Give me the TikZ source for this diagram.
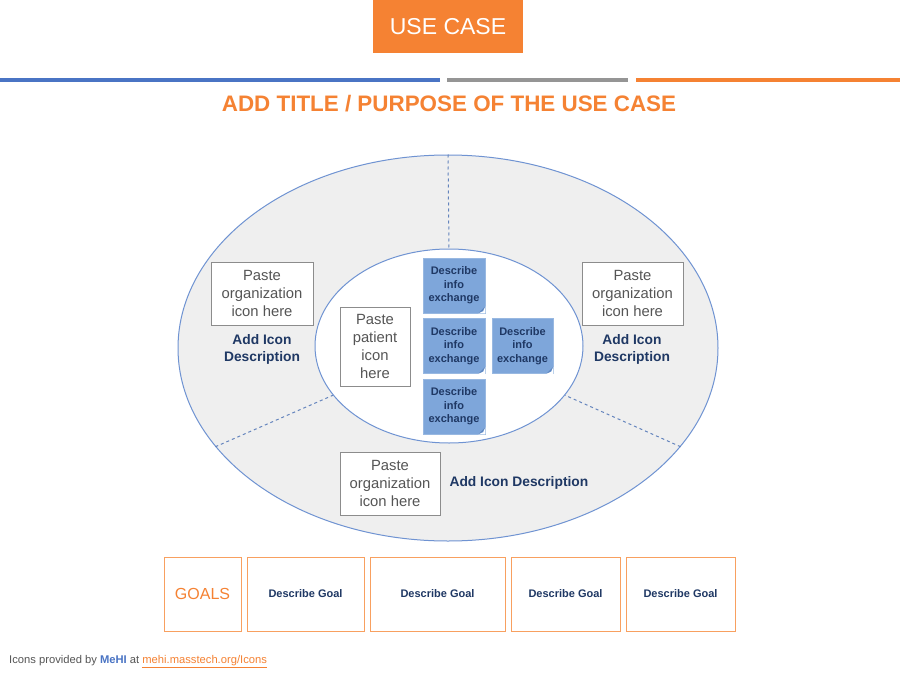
\documentclass[tikz,border=0pt]{standalone}
\usepackage{fontspec}
\setmainfont{Liberation Sans}
\usetikzlibrary{shapes.geometric}
\definecolor{ucorange}{HTML}{F58233}
\definecolor{gorange}{HTML}{F8A060}
\definecolor{ucblue}{HTML}{4A74C4}
\definecolor{ucgray}{HTML}{959595}
\definecolor{ellline}{HTML}{6F93D2}
\definecolor{ellfill}{HTML}{EFEFEF}
\definecolor{navy}{HTML}{1F3864}
\definecolor{infobox}{HTML}{7EA6DA}
\definecolor{infofold}{HTML}{5E86C0}
\definecolor{txtgray}{HTML}{555555}
\definecolor{boxline}{HTML}{8C8C8C}
\tikzset{
  iconbox/.style={draw=boxline, line width=0.9pt, fill=white, align=center, text=txtgray,
    font=\fontsize{14.8}{18}\selectfont, inner sep=0pt},
  descr/.style={align=center, text=navy, font=\bfseries\fontsize{13.8}{17}\selectfont},
  infobox/.style={fill=infobox, draw=infobox!80!white, line width=0.5pt, minimum width=62pt, minimum height=55pt,
    align=center, text=navy, font=\bfseries\fontsize{11}{13.5}\selectfont, inner sep=0pt},
  goalbox/.style={draw=gorange, line width=1pt, fill=white, minimum height=74pt, inner sep=0pt,
    text=navy, font=\bfseries\fontsize{11}{13}\selectfont},
  sepline/.style={draw=ellline!90!black, dashed, line width=1pt},
  barline/.style={line width=4pt}
}
\newcommand{\foldcorner}[1]{%
  \fill[white] ([xshift=-2pt,yshift=2pt]#1.south east) -- ([yshift=7pt]#1.south east) -- (#1.south east) -- ([xshift=-7pt]#1.south east) -- cycle;
  \fill[infofold] ([xshift=-7pt]#1.south east) -- ([yshift=7pt]#1.south east) -- ([xshift=-2.5pt,yshift=2.5pt]#1.south east) -- cycle;}
\begin{document}
\begin{tikzpicture}[x=1pt,y=-1pt]
\useasboundingbox[fill=white] (0,0) rectangle (900,680);
% header
\node[fill=ucorange, minimum width=150pt, minimum height=53pt, inner sep=0pt, text=white,
  font=\fontsize{23}{28}\selectfont] (hdr) at (448,26.5) {USE CASE};
\coordinate (b1a) at (0,80); \coordinate (b1b) at (440,80);
\coordinate (b2a) at (447,80); \coordinate (b2b) at (628,80);
\coordinate (b3a) at (636,80); \coordinate (b3b) at (900,80);
\draw[barline, ucblue] (b1a) -- (b1b);
\draw[barline, ucgray] (b2a) -- (b2b);
\draw[barline, ucorange] (b3a) -- (b3b);
\node[text=ucorange, font=\bfseries\fontsize{22.4}{26}\selectfont] (title) at (449,104) {ADD TITLE / PURPOSE OF THE USE CASE};
% ellipses
\node[ellipse, draw=ellline, line width=1pt, fill=ellfill, minimum width=540pt, minimum height=386pt, inner sep=0pt] (outer) at (448,348) {};
\node[ellipse, draw=ellline, line width=1pt, fill=white, minimum width=268pt, minimum height=194pt, inner sep=0pt] (inner) at (449,346) {};
\draw[sepline] (outer.north) -- (inner.north);
\draw[sepline] (outer.203) -- (inner.203);
\draw[sepline] (outer.337) -- (inner.337);
% org icons
\node[iconbox, minimum width=102pt, minimum height=63pt] (orgL) at (262,293.5) {Paste\\organization\\icon here};
\node[descr] (descL) at (262,349.5) {Add Icon\\Description};
\node[iconbox, minimum width=101pt, minimum height=63pt] (orgR) at (632.5,293.5) {Paste\\organization\\icon here};
\node[descr] (descR) at (632,349.5) {Add Icon\\Description};
\node[iconbox, minimum width=100pt, minimum height=63pt] (orgB) at (390,483.5) {Paste\\organization\\icon here};
\node[descr, anchor=west] (descB) at (446,482.5) {Add Icon Description};
% patient
\node[iconbox, minimum width=70pt, minimum height=79pt] (pat) at (375,346.5) {Paste\\patient\\icon\\here};
% info boxes
\node[infobox] (i1) at (454,285.5) {Describe\\info\\exchange};
\node[infobox] (i2) at (454,346) {Describe\\info\\exchange};
\node[infobox, minimum width=61pt] (i3) at (522.5,346) {Describe\\info\\exchange};
\node[infobox] (i4) at (454,406.5) {Describe\\info\\exchange};
\foldcorner{i1}\foldcorner{i2}\foldcorner{i3}\foldcorner{i4}
% goals
\node[goalbox, minimum width=77pt, text=ucorange, font=\fontsize{16}{18}\selectfont] (g0) at (202.5,594) {GOALS};
\node[goalbox, minimum width=117pt] (g1) at (305.5,594) {Describe Goal};
\node[goalbox, minimum width=135pt] (g2) at (437.5,594) {Describe Goal};
\node[goalbox, minimum width=109pt] (g3) at (565.5,594) {Describe Goal};
\node[goalbox, minimum width=109pt] (g4) at (680.5,594) {Describe Goal};
% footer
\node[anchor=west, inner sep=0pt, font=\fontsize{11.2}{13}\selectfont, text=txtgray] (foot) at (9,662)
  {Icons provided by \textcolor{ucblue}{\bfseries MeHI} at \textcolor{ucorange}{\underline{mehi.masstech.org/Icons}}};
\end{tikzpicture}
\end{document}
